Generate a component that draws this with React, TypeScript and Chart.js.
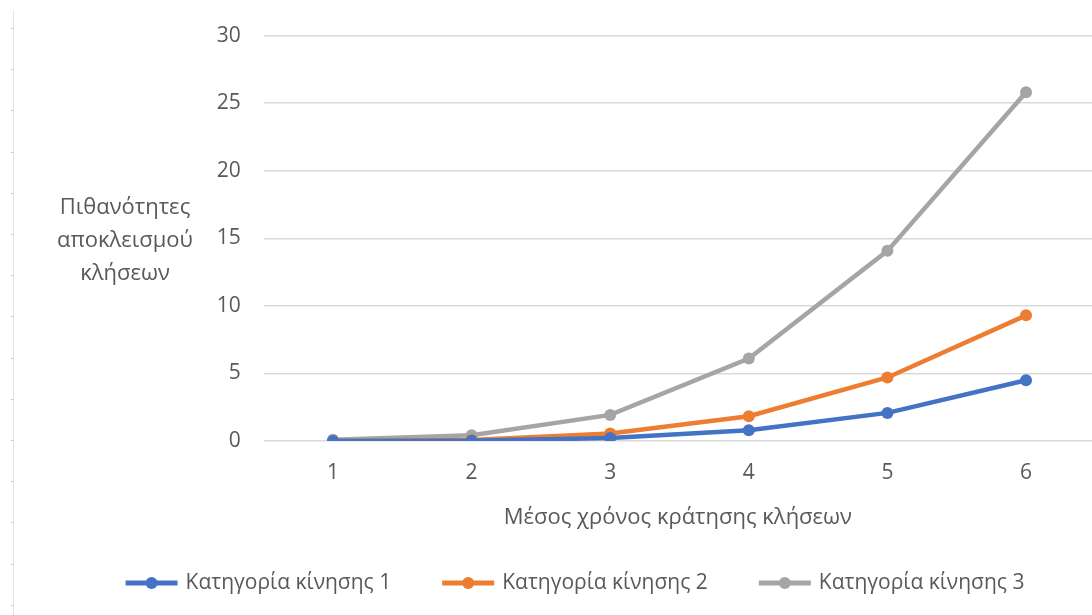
import React, { useEffect, useRef } from "react";
import { Chart, registerables } from "chart.js";

Chart.register(...registerables);

// Mean call holding time (x) and blocking probability per traffic class (y)
const holdingTimes = [1, 2, 3, 4, 5, 6];
const seriesNames = ["Κατηγορία κίνησης 1", "Κατηγορία κίνησης 2", "Κατηγορία κίνησης 3"];
const category1 = [0.0, 0.02, 0.22, 0.8, 2.08, 4.5];
const category2 = [0.0, 0.07, 0.55, 1.83, 4.7, 9.3];
const category3 = [0.1, 0.42, 1.93, 6.1, 14.07, 25.8];
const yTicks = [0, 5, 10, 15, 20, 25, 30];
const yTitleLines = ["Πιθανότητες", "αποκλεισμού", "κλήσεων"];
const xTitle = "Μέσος χρόνος κράτησης κλήσεων";
const seriesColors = ["#4472C4", "#ED7D31", "#A5A5A5"];

const FONT = "'Open Sans', 'Noto Sans', sans-serif";
const TEXT = "#595959";
const W = 1092;
const H = 615;
// the plot runs on past the visible right edge
const CANVAS_W = 1098;

// Draws the thin page ruler on the left, the horizontal y-axis title and the legend.
const decorPlugin = {
  id: "decor",
  beforeDraw(chart: any) {
    const ctx: CanvasRenderingContext2D = chart.ctx;
    ctx.save();
    ctx.strokeStyle = "#e4e4e4";
    ctx.lineWidth = 1;
    ctx.beginPath();
    ctx.moveTo(13.5, 10);
    ctx.lineTo(13.5, chart.height);
    ctx.stroke();
    ctx.strokeStyle = "#cfcfcf";
    for (let y = 28; y < chart.height; y += 41.2) {
      const yy = Math.round(y) + 0.5;
      ctx.beginPath();
      ctx.moveTo(11, yy);
      ctx.lineTo(14, yy);
      ctx.stroke();
    }
    ctx.restore();
  },
  afterDraw(chart: any) {
    const ctx: CanvasRenderingContext2D = chart.ctx;
    const area = chart.chartArea;
    ctx.save();

    // y-axis title, written horizontally on three lines
    ctx.font = `22px ${FONT}`;
    ctx.fillStyle = TEXT;
    ctx.textAlign = "center";
    ctx.textBaseline = "middle";
    const midY = (area.top + area.bottom) / 2 + 2;
    yTitleLines.forEach((line, i) => {
      ctx.fillText(line, 125, midY + (i - 1) * 33);
    });

    // legend: line-with-marker swatch followed by the series name
    ctx.font = `21px ${FONT}`;
    const swatch = 52;
    const gapText = 8;
    const gapItem = 51;
    const items = chart.data.datasets.map((ds: any) => ({
      label: ds.label as string,
      color: ds.borderColor as string,
      w: swatch + gapText + ctx.measureText(ds.label).width,
    }));
    const total = items.reduce((s: number, it: any) => s + it.w, 0) + gapItem * (items.length - 1);
    let x = 575 - total / 2;
    const ly = 583;
    items.forEach((it: any) => {
      ctx.strokeStyle = it.color;
      ctx.lineWidth = 5;
      ctx.lineCap = "butt";
      ctx.beginPath();
      ctx.moveTo(x, ly);
      ctx.lineTo(x + swatch, ly);
      ctx.stroke();
      ctx.fillStyle = it.color;
      ctx.beginPath();
      ctx.arc(x + swatch / 2, ly, 6, 0, Math.PI * 2);
      ctx.fill();
      ctx.fillStyle = TEXT;
      ctx.textAlign = "left";
      ctx.fillText(it.label, x + swatch + gapText, ly);
      x += it.w + gapItem;
    });
    ctx.restore();
  },
};

export default function App() {
  const canvasRef = useRef<HTMLCanvasElement | null>(null);

  useEffect(() => {
    if (!canvasRef.current) return;
    const seriesValues = [category1, category2, category3];
    const chart = new Chart(canvasRef.current, {
      type: "line",
      data: {
        datasets: seriesValues.map((values, i) => ({
          label: seriesNames[i],
          data: holdingTimes.map((x, j) => ({ x, y: values[j] })),
          borderColor: seriesColors[i],
          backgroundColor: seriesColors[i],
          pointBackgroundColor: seriesColors[i],
          pointBorderColor: seriesColors[i],
          borderWidth: 4.5,
          pointRadius: 6,
          pointBorderWidth: 0,
          tension: 0,
          fill: false,
        })),
      },
      options: {
        animation: false,
        responsive: false,
        layout: { padding: { top: 35, right: 0, bottom: 82, left: 0 } },
        plugins: {
          legend: { display: false },
          tooltip: { enabled: false },
        },
        scales: {
          x: {
            type: "linear",
            min: 0.5,
            max: 6.476,
            afterBuildTicks: (s: any) => {
              s.ticks = holdingTimes.map((v) => ({ value: v }));
            },
            afterFit: (s: any) => {
              s.height = 92;
            },
            grid: { display: false, drawTicks: false },
            border: { display: false },
            ticks: { color: TEXT, font: { family: FONT, size: 21 }, padding: 19 },
            title: {
              display: true,
              text: xTitle,
              color: TEXT,
              font: { family: FONT, size: 22 },
              padding: { top: 0, bottom: 2 },
            },
          },
          y: {
            min: 0,
            max: 30,
            afterBuildTicks: (s: any) => {
              s.ticks = yTicks.map((v) => ({ value: v }));
            },
            afterFit: (s: any) => {
              s.width = 263.7;
            },
            grid: { color: "#d9d9d9", lineWidth: 1.5, drawTicks: false },
            border: { display: false },
            ticks: { color: TEXT, font: { family: FONT, size: 21 }, padding: 23 },
          },
        },
      },
      plugins: [decorPlugin],
    });
    return () => chart.destroy();
  }, []);

  return (
    <div
      style={{
        position: "fixed",
        left: 0,
        top: 0,
        width: W,
        height: H,
        overflow: "hidden",
        background: "#fff",
      }}
    >
      <canvas ref={canvasRef} width={CANVAS_W} height={H} style={{ display: "block" }} />
    </div>
  );
}
